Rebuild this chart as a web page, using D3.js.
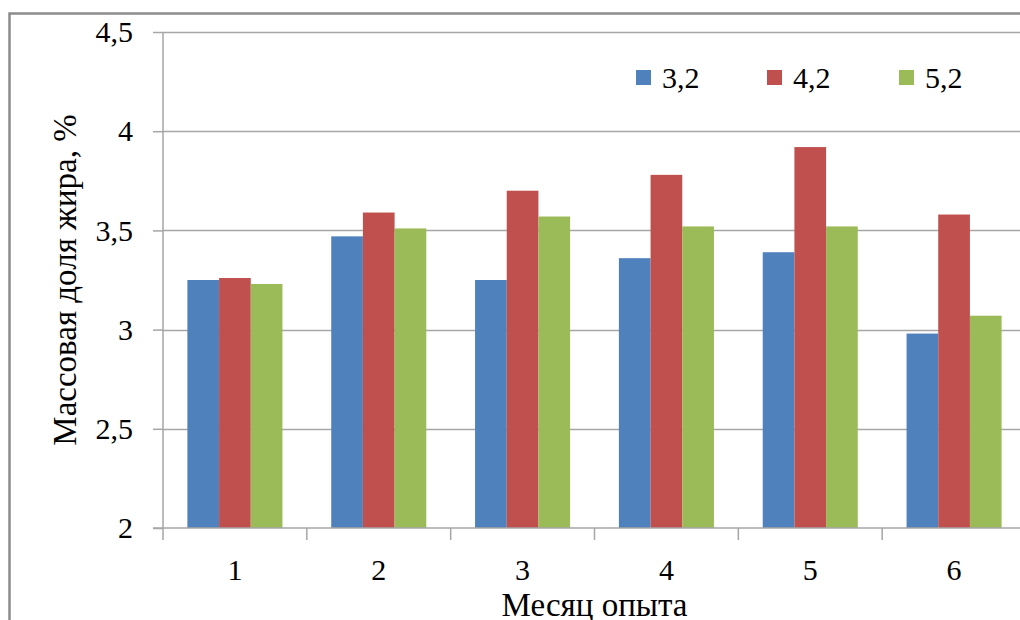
<!DOCTYPE html>
<html><head><meta charset="utf-8">
<script src="https://cdn.jsdelivr.net/npm/d3@7"></script>
<style>body{margin:0;background:#fff}svg{display:block}</style>
</head><body><svg id="c" width="1020" height="620"></svg>
<script>
const categories = ["1","2","3","4","5","6"];
const seriesNames = ["3,2","4,2","5,2"];
const s32 = [3.25, 3.47, 3.25, 3.36, 3.39, 2.98];
const s42 = [3.26, 3.59, 3.70, 3.78, 3.92, 3.58];
const s52 = [3.23, 3.51, 3.57, 3.52, 3.52, 3.07];
const yTicks = [2, 2.5, 3, 3.5, 4, 4.5];
const colors = ["#4F81BD", "#C0504D", "#9BBB59"];
const series = [s32, s42, s52];

(function () {
const FONT = "'Liberation Serif', 'Times New Roman', 'Liberation Sans', Arial, sans-serif";
const FS = "30px", FT = "33px";
const svg = d3.select("#c");
const pL = 163, pR = 1026, pT = 32, pB = 528;
const x = d3.scaleBand().domain(categories).range([pL, pR]).paddingInner(0).paddingOuter(0);
const xi = d3.scaleBand().domain(seriesNames).range([0, x.bandwidth()]).paddingInner(0).paddingOuter(0.77);
const y = d3.scaleLinear().domain([2, 4.5]).range([pB, pT]);
const fmt = d => String(d).replace(".", ",");

// outer frame
svg.append("rect").attr("x", 9.5).attr("y", 13.5).attr("width", 1030).attr("height", 640)
  .attr("fill", "none").attr("stroke", "#8c8c8c").attr("stroke-width", 2.5);

// gridlines
svg.append("g").selectAll("line").data(yTicks.filter(d => d > 2)).join("line")
  .attr("x1", pL).attr("x2", 1020).attr("y1", d => Math.round(y(d)) + 0.5).attr("y2", d => Math.round(y(d)) + 0.5)
  .attr("stroke", "#a6a6a6").attr("stroke-width", 1.5);

// bars
const g = svg.append("g");
categories.forEach((c, i) => {
  series.forEach((s, j) => {
    g.append("rect")
      .attr("x", x(c) + xi(seriesNames[j]))
      .attr("y", y(s[i]))
      .attr("width", xi.bandwidth())
      .attr("height", y(2) - y(s[i]))
      .attr("fill", colors[j]);
  });
});

// y axis
const ya = svg.append("g").attr("transform", `translate(${pL},0)`)
  .call(d3.axisLeft(y).tickValues(yTicks).tickFormat(fmt).tickSize(10).tickPadding(20));
ya.attr("font-family", null).attr("font-size", null);
ya.select(".domain").attr("stroke", "#a6a6a6").attr("stroke-width", 1.5).attr("d", `M0,${pT}V${pB}`);
ya.selectAll(".tick line").attr("stroke", "#a6a6a6").attr("stroke-width", 1.5);
ya.selectAll(".tick text").style("font-family", FONT).style("font-size", FS).attr("fill", "#000");

// x axis
const xa = svg.append("g").attr("transform", `translate(0,${pB})`)
  .call(d3.axisBottom(x).tickSize(0).tickPadding(31));
xa.attr("font-family", null).attr("font-size", null);
xa.select(".domain").attr("stroke", "#a6a6a6").attr("stroke-width", 1.5).attr("d", `M${pL - 10},0H1020`);
xa.selectAll(".tick text").style("font-family", FONT).style("font-size", FS).attr("fill", "#000");
svg.append("g").selectAll("line").data(categories.concat(["end"])).join("line")
  .attr("x1", (d, i) => pL + i * x.bandwidth()).attr("x2", (d, i) => pL + i * x.bandwidth())
  .attr("y1", pB).attr("y2", pB + 12).attr("stroke", "#a6a6a6").attr("stroke-width", 1.5);

// axis titles
svg.append("text").attr("x", (pL + pR) / 2).attr("y", 616).attr("text-anchor", "middle")
  .style("font-family", FONT).style("font-size", FT).text("Месяц опыта");
svg.append("text").attr("transform", "translate(76,280) rotate(-90)").attr("text-anchor", "middle")
  .style("font-family", FONT).style("font-size", FT).text("Массовая доля жира, %");

// legend
const lx = [636, 767, 899];
const lg = svg.append("g");
seriesNames.forEach((n, j) => {
  lg.append("rect").attr("x", lx[j]).attr("y", 70).attr("width", 15).attr("height", 15).attr("fill", colors[j]);
  lg.append("text").attr("x", lx[j] + 26).attr("y", 88).style("font-family", FONT).style("font-size", FS).text(n);
});
})();
</script></body></html>
